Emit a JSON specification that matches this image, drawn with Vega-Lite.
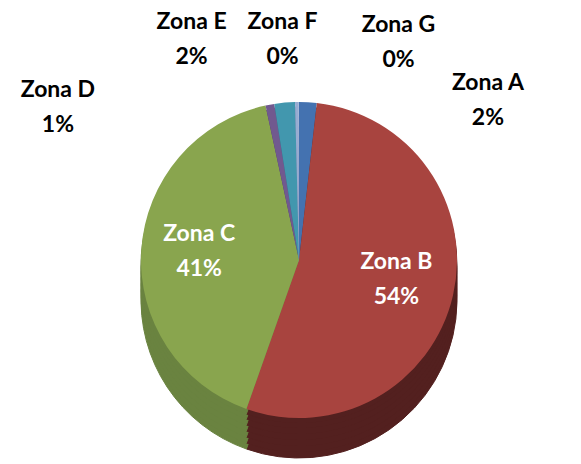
{
  "$schema": "https://vega.github.io/schema/vega-lite/v6.json",
  "width": 564,
  "height": 408,
  "autosize": "none",
  "padding": {"top": 56, "bottom": 0, "left": 17, "right": 0},
  "background": "white",
  "config": {"view": {"stroke": null}},
  "data": {
    "values": [
      {"zona": "Zona A", "v": 1.8, "label": "Zona A\n2%"},
      {"zona": "Zona B", "v": 53.6, "label": "Zona B\n54%"},
      {"zona": "Zona C", "v": 41.2, "label": "Zona C\n41%"},
      {"zona": "Zona D", "v": 0.9, "label": "Zona D\n1%"},
      {"zona": "Zona E", "v": 2.1, "label": "Zona E\n2%"},
      {"zona": "Zona F", "v": 0.3, "label": "Zona F\n0%"},
      {"zona": "Zona G", "v": 0.1, "label": "Zona G\n0%"}
    ]
  },
  "encoding": {
    "theta": {"field": "v", "type": "quantitative", "stack": true},
    "order": {"field": "zona", "type": "ordinal", "sort": "ascending"}
  },
  "layer": [
    {
      "mark": {"type": "arc", "radius": 158, "yOffset": 40, "strokeWidth": 1},
      "encoding": {
        "fill": {"field": "zona", "type": "nominal", "legend": null, "scale": {"domain": ["Zona A", "Zona B", "Zona C", "Zona D", "Zona E", "Zona F", "Zona G"], "range": ["#2A4A75", "#53201F", "#6A8340", "#4C3B62", "#2B6B7C", "#6D7F9E", "#6D7F9E"]}},
        "stroke": {"field": "zona", "type": "nominal", "legend": null, "scale": {"domain": ["Zona A", "Zona B", "Zona C", "Zona D", "Zona E", "Zona F", "Zona G"], "range": ["#2A4A75", "#53201F", "#6A8340", "#4C3B62", "#2B6B7C", "#6D7F9E", "#6D7F9E"]}}
      }
    },
    {
      "mark": {"type": "arc", "radius": 158, "yOffset": 34, "strokeWidth": 1},
      "encoding": {"fill": {"field": "zona", "type": "nominal", "legend": null}, "stroke": {"field": "zona", "type": "nominal", "legend": null}}
    },
    {
      "mark": {"type": "arc", "radius": 158, "yOffset": 28, "strokeWidth": 1},
      "encoding": {"fill": {"field": "zona", "type": "nominal", "legend": null}, "stroke": {"field": "zona", "type": "nominal", "legend": null}}
    },
    {
      "mark": {"type": "arc", "radius": 158, "yOffset": 22, "strokeWidth": 1},
      "encoding": {"fill": {"field": "zona", "type": "nominal", "legend": null}, "stroke": {"field": "zona", "type": "nominal", "legend": null}}
    },
    {
      "mark": {"type": "arc", "radius": 158, "yOffset": 16, "strokeWidth": 1},
      "encoding": {"fill": {"field": "zona", "type": "nominal", "legend": null}, "stroke": {"field": "zona", "type": "nominal", "legend": null}}
    },
    {
      "mark": {"type": "arc", "radius": 158, "yOffset": 10, "strokeWidth": 1},
      "encoding": {"fill": {"field": "zona", "type": "nominal", "legend": null}, "stroke": {"field": "zona", "type": "nominal", "legend": null}}
    },
    {
      "mark": {"type": "arc", "radius": 158, "yOffset": 5, "strokeWidth": 1},
      "encoding": {"fill": {"field": "zona", "type": "nominal", "legend": null}, "stroke": {"field": "zona", "type": "nominal", "legend": null}}
    },
    {
      "mark": {"type": "arc", "radius": 158},
      "encoding": {"color": {"field": "zona", "type": "nominal", "legend": null, "scale": {"domain": ["Zona A", "Zona B", "Zona C", "Zona D", "Zona E", "Zona F", "Zona G"], "range": ["#4472B0", "#A8443F", "#89A54E", "#71598F", "#4297AE", "#97ACD2", "#A9BADB"]}}}
    },
    {
      "mark": {"type": "text", "radius": 100, "dy": -20, "font": "Lato", "fontSize": 23, "fontWeight": "bold", "fill": "white", "lineBreak": "\n", "lineHeight": 35, "align": "center", "baseline": "middle"},
      "encoding": {"detail": {"field": "zona"}, "text": {"condition": {"test": "datum.zona === 'Zona B' || datum.zona === 'Zona C'", "field": "label"}, "value": ""}}
    },
    {
      "mark": {"type": "text", "radius": 158, "dx": 180, "dy": -19, "font": "Lato", "fontSize": 23, "fontWeight": "bold", "fill": "black", "lineBreak": "\n", "lineHeight": 35, "align": "center", "baseline": "middle"},
      "encoding": {"detail": {"field": "zona"}, "text": {"condition": {"test": "datum.zona === 'Zona A'", "field": "label"}, "value": ""}}
    },
    {
      "mark": {"type": "text", "radius": 158, "dx": -212, "dy": -15, "font": "Lato", "fontSize": 23, "fontWeight": "bold", "fill": "black", "lineBreak": "\n", "lineHeight": 35, "align": "center", "baseline": "middle"},
      "encoding": {"detail": {"field": "zona"}, "text": {"condition": {"test": "datum.zona === 'Zona D'", "field": "label"}, "value": ""}}
    },
    {
      "mark": {"type": "text", "radius": 158, "dx": -93, "dy": -81, "font": "Lato", "fontSize": 23, "fontWeight": "bold", "fill": "black", "lineBreak": "\n", "lineHeight": 35, "align": "center", "baseline": "middle"},
      "encoding": {"detail": {"field": "zona"}, "text": {"condition": {"test": "datum.zona === 'Zona E'", "field": "label"}, "value": ""}}
    },
    {
      "mark": {"type": "text", "radius": 158, "dx": -14, "dy": -80, "font": "Lato", "fontSize": 23, "fontWeight": "bold", "fill": "black", "lineBreak": "\n", "lineHeight": 35, "align": "center", "baseline": "middle"},
      "encoding": {"detail": {"field": "zona"}, "text": {"condition": {"test": "datum.zona === 'Zona F'", "field": "label"}, "value": ""}}
    },
    {
      "mark": {"type": "text", "radius": 158, "dx": 100, "dy": -77, "font": "Lato", "fontSize": 23, "fontWeight": "bold", "fill": "black", "lineBreak": "\n", "lineHeight": 35, "align": "center", "baseline": "middle"},
      "encoding": {"detail": {"field": "zona"}, "text": {"condition": {"test": "datum.zona === 'Zona G'", "field": "label"}, "value": ""}}
    }
  ]
}
